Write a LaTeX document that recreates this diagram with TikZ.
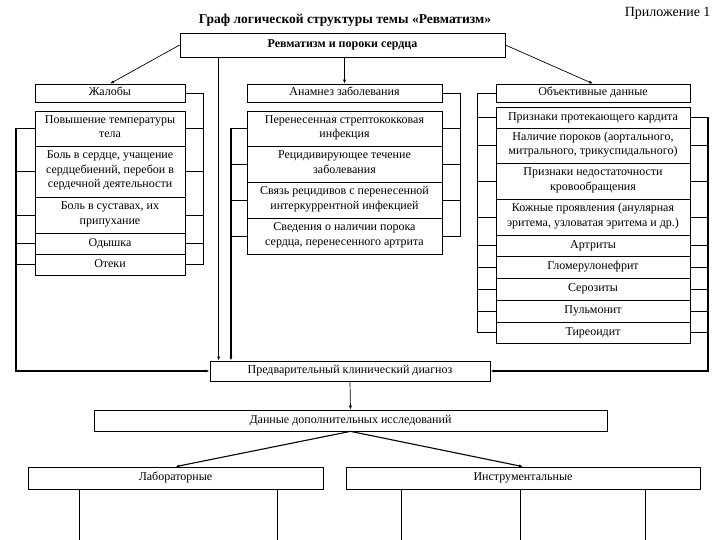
\documentclass[tikz,border=0pt]{standalone}
\usepackage{fontspec}
\setmainfont{Liberation Serif}
\usetikzlibrary{arrows.meta}
\begin{document}
\begin{tikzpicture}[x=1pt,y=-1pt,
  box/.style={draw, line width=0.7pt, fill=white, inner sep=0pt, align=center, font=\fontsize{12}{14.5}\selectfont,
    execute at begin node=\strut, execute at end node=\strut},
  ln/.style={line width=0.7pt},
  thk/.style={line width=1.8pt},
  arr/.style={-{Latex[length=4pt,width=3pt]}},
]
\useasboundingbox (0,0) rectangle (720,540);
% titles
\node[font=\bfseries\fontsize{13.5}{15}\selectfont] (title) at (345,20) {Граф логической структуры темы «Ревматизм»};
\node[font=\fontsize{14}{16}\selectfont, anchor=east] (app) at (714,13) {Приложение 1};
% top
\node[box, minimum width=325pt, minimum height=24pt, font=\bfseries\fontsize{12}{14}\selectfont] (top) at (342.5,45) {Ревматизм и пороки сердца};
% left column
\node[box, minimum width=150pt, minimum height=18pt] (zh) at (110,93) {Жалобы};
\node[box, minimum width=150pt, minimum height=35pt] (l1) at (110,128.5) {Повышение температуры\\тела};
\node[box, minimum width=150pt, minimum height=51pt] (l2) at (110,171.5) {Боль в сердце, учащение\\сердцебиений, перебои в\\сердечной деятельности};
\node[box, minimum width=150pt, minimum height=36pt] (l3) at (110,215) {Боль в суставах, их\\припухание};
\node[box, minimum width=150pt, minimum height=21pt] (l4) at (110,243.5) {Одышка};
\node[box, minimum width=150pt, minimum height=21pt] (l5) at (110,264.5) {Отеки};
% middle column
\node[box, minimum width=195pt, minimum height=18pt] (an) at (344.5,93) {Анамнез заболевания};
\node[box, minimum width=195pt, minimum height=35pt] (m1) at (344.5,128.5) {Перенесенная стрептококковая\\инфекция};
\node[box, minimum width=195pt, minimum height=36pt] (m2) at (344.5,164) {Рецидивирующее течение\\заболевания};
\node[box, minimum width=195pt, minimum height=36pt] (m3) at (344.5,200) {Связь рецидивов с перенесенной\\интеркуррентной инфекцией};
\node[box, minimum width=195pt, minimum height=36pt] (m4) at (344.5,236) {Сведения о наличии порока\\сердца, перенесенного артрита};
% right column
\node[box, minimum width=194pt, minimum height=18pt] (ob) at (593,93) {Объективные данные};
\node[box, minimum width=194pt, minimum height=21pt] (r1) at (593,117.5) {Признаки протекающего кардита};
\node[box, minimum width=194pt, minimum height=35pt] (r2) at (593,145.5) {Наличие пороков (аортального,\\митрального, трикуспидального)};
\node[box, minimum width=194pt, minimum height=36pt] (r3) at (593,181) {Признаки недостаточности\\кровообращения};
\node[box, minimum width=194pt, minimum height=36pt] (r4) at (593,217) {Кожные проявления (анулярная\\эритема, узловатая эритема и др.)};
\node[box, minimum width=194pt, minimum height=21pt] (r5) at (593,245.5) {Артриты};
\node[box, minimum width=194pt, minimum height=22pt] (r6) at (593,267) {Гломерулонефрит};
\node[box, minimum width=194pt, minimum height=22pt] (r7) at (593,289) {Серозиты};
\node[box, minimum width=194pt, minimum height=22pt] (r8) at (593,311) {Пульмонит};
\node[box, minimum width=194pt, minimum height=21pt] (r9) at (593,332.5) {Тиреоидит};
% lower part
\node[box, minimum width=280pt, minimum height=20pt] (dx) at (350,371) {Предварительный клинический диагноз};
\node[box, minimum width=513pt, minimum height=21pt] (dd) at (350.5,420.5) {Данные дополнительных исследований};
\node[box, minimum width=295pt, minimum height=22pt] (lab) at (175.5,478) {Лабораторные};
\node[box, minimum width=354pt, minimum height=22pt] (ins) at (523,478) {Инструментальные};
% helper coordinates
\coordinate (lRx) at (203,0);
\coordinate (lLx) at (16,371);
\coordinate (mRx) at (460,0);
\coordinate (mLx) at (231,0);
\coordinate (rLx) at (477,0);
\coordinate (rRx) at (708,371);
\coordinate (b1) at (79,540);
\coordinate (b2) at (277,540);
\coordinate (b3) at (401,540);
\coordinate (b4) at (520,540);
\coordinate (b5) at (645,540);
% top arrows
\draw[ln,arr] (top.west) -- (zh.north);
\draw[ln,arr] (top.south -| an.north) -- (an.north);
\draw[ln,arr] (top.east) -- (ob.north);
\draw[line width=1.1pt,arr] ([xshift=39pt]top.south west) -- ([xshift=9pt]dx.north west);
% left column brackets
\draw[ln] (zh.east) -| (lRx |- l5.east) -- (l5.east);
\foreach \n in {l1,l2,l3,l4} \draw[ln] (\n.east) -- (\n.east -| lRx);
\draw[thk,arr] (l1.west) -| (lLx) -- (dx.west);
\foreach \n in {l2,l3,l4,l5} \draw[ln] (\n.west) -- (\n.west -| lLx);
% middle column brackets
\draw[ln] (an.east) -| (mRx |- m4.east) -- (m4.east);
\foreach \n in {m1,m2,m3} \draw[ln] (\n.east) -- (\n.east -| mRx);
\draw[thk,arr] (m1.west) -| (mLx |- dx.north);
\foreach \n in {m2,m3,m4} \draw[ln] (\n.west) -- (\n.west -| mLx);
% right column brackets
\draw[ln] (ob.west) -| (rLx |- r9.west) -- (r9.west);
\foreach \n in {r1,r2,r3,r4,r5,r6,r7,r8} \draw[ln] (\n.west) -- (\n.west -| rLx);
\draw[thk,arr] (r1.east) -| (rRx) -- (dx.east);
\foreach \n in {r2,r3,r4,r5,r6,r7,r8,r9} \draw[ln] (\n.east) -- (\n.east -| rRx);
% bottom
\draw[ln,arr] (dx.south) -- (dd.north);
\draw[line width=1.1pt,arr] (dd.south) -- (lab.north);
\draw[line width=1.1pt,arr] (dd.south) -- (ins.north);
\foreach \b in {b1,b2} \draw[ln] (\b |- lab.south) -- (\b);
\foreach \b in {b3,b4,b5} \draw[ln] (\b |- ins.south) -- (\b);
\end{tikzpicture}
\end{document}
